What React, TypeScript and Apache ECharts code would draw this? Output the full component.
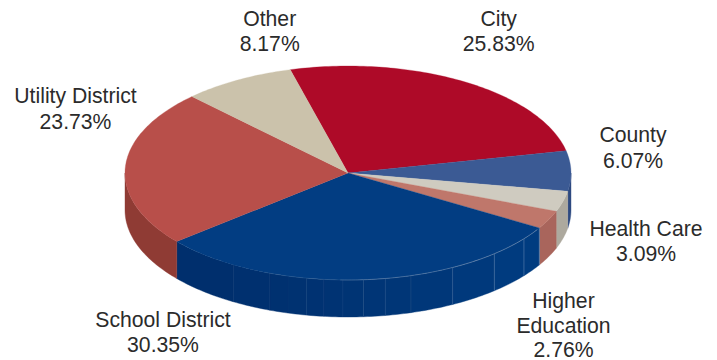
import React, { useEffect, useRef } from "react";
import * as echarts from "echarts";

const categories = ["City", "County", "Health Care", "Higher Education", "School District", "Utility District", "Other"];
const shares = [25.83, 6.07, 3.09, 2.76, 30.35, 23.73, 8.17];
const topColors = ["#AE0A28", "#3B5A94", "#CFCBC0", "#BF776B", "#023D82", "#B84F4A", "#CBC2AB"];
const sideColors = ["#8A0820", "#2D4A80", "#ADA99E", "#A9655C", "#002C69", "#8F3B34", "#A59D89"];

// Label lines by category index.
const labelLines = [
  ["City"],
  ["County"],
  ["Health Care"],
  ["Higher", "Education"],
  ["School District"],
  ["Utility District"],
  ["Other"],
];
// Centre x, first line y and line spacing of each label block.
const labelBlocks = [
  [498.7, 18, 25],
  [633, 134.7, 25.4],
  [646, 228, 25],
  [563.5, 300.7, 24.3],
  [163, 319, 25],
  [75.5, 95.7, 25.4],
  [269.7, 18, 25],
];

// Facet seams on the rim of the School District slice, in degrees of ellipse parameter.
const rimSeams = [-121, -110.5, -105.6, -100.8, -96.2, -91.3, -86, -80.4, -73.6, -62, -49, -37.9];

const CX = 348;
const CY = 173;
const RX = 223;
const RY = 107;
const DEPTH = 37;
const START_DEG = 105;
const SCHOOL_INDEX = 4;

const total = shares.reduce((a, b) => a + b, 0);

function sliceRange(index: number): [number, number] {
  const before = shares.slice(0, index).reduce((a, b) => a + b, 0);
  const from = START_DEG - (before / total) * 360;
  const to = from - (shares[index] / total) * 360;
  return [from, to];
}

function rimPoint(deg: number, drop = 0): number[] {
  const t = (deg * Math.PI) / 180;
  return [CX + RX * Math.cos(t), CY - RY * Math.sin(t) + drop];
}

function arcPoints(from: number, to: number, drop = 0): number[][] {
  const pts: number[][] = [];
  const steps = Math.max(2, Math.ceil(Math.abs(from - to)));
  for (let i = 0; i <= steps; i++) pts.push(rimPoint(from + ((to - from) * i) / steps, drop));
  return pts;
}

function mixHex(a: string, b: string, k: number): string {
  const ch = (h: string, i: number) => parseInt(h.slice(1 + i * 2, 3 + i * 2), 16);
  const parts = [0, 1, 2].map((i) => Math.round(ch(a, i) + (ch(b, i) - ch(a, i)) * k));
  return `rgb(${parts.join(",")})`;
}

// One wall quad between two parameter angles on the front half of the ellipse.
function wall(from: number, to: number, fill: string) {
  return {
    type: "polygon",
    shape: { points: [...arcPoints(from, to), ...arcPoints(to, from, DEPTH)] },
    style: { fill, stroke: fill, lineWidth: 0.4 },
  };
}

function renderSides(params: any) {
  const i = params.dataIndex;
  const [a, b] = sliceRange(i);
  const children: any[] = [];
  // The visible wall lies between 0 and -180 degrees.
  const from = Math.min(a, 0);
  const to = Math.max(b, -180);
  if (from <= to) return { type: "group", children };

  if (i === SCHOOL_INDEX) {
    const stops = [from, ...[...rimSeams].reverse(), to];
    for (let s = 0; s < stops.length - 1; s++) {
      const k = (stops[s] - to) / (from - to);
      children.push(wall(stops[s], stops[s + 1], mixHex("#002C69", "#003C80", k)));
    }
    rimSeams.forEach((deg) => {
      const [x1, y1] = rimPoint(deg);
      const [x2, y2] = rimPoint(deg, DEPTH);
      const k = (deg - to) / (from - to);
      children.push({
        type: "line",
        shape: { x1, y1, x2, y2 },
        style: { stroke: "#DCE6F2", lineWidth: 0.7, opacity: 0.01 + 0.42 * k * k * k },
      });
    });
    const [x1, y1] = rimPoint(from);
    const [x2, y2] = rimPoint(from, DEPTH);
    children.push({ type: "line", shape: { x1, y1, x2, y2 }, style: { stroke: "#6C86A8", lineWidth: 0.8 } });
  } else {
    children.push(wall(from, to, sideColors[i]));
  }
  return { type: "group", children };
}

function renderTops(params: any, api: any) {
  const i = params.dataIndex;
  const [a, b] = sliceRange(i);
  const value = api.value(0);
  const children: any[] = [
    {
      type: "polygon",
      shape: { points: [[CX, CY], ...arcPoints(a, b)] },
      style: { fill: topColors[i], stroke: topColors[i], lineWidth: 0.3 },
    },
  ];
  if (i === SCHOOL_INDEX) {
    // Thin highlight where the top face meets the wall.
    children.push({
      type: "polyline",
      shape: { points: arcPoints(-32, -62) },
      style: { stroke: "#7C95B6", lineWidth: 0.8, fill: "none", opacity: 0.75 },
    });
    children.push({
      type: "polyline",
      shape: { points: arcPoints(-62, -92) },
      style: { stroke: "#7C95B6", lineWidth: 0.8, fill: "none", opacity: 0.6 },
    });
    children.push({
      type: "polyline",
      shape: { points: arcPoints(-92, -112) },
      style: { stroke: "#7C95B6", lineWidth: 0.7, fill: "none", opacity: 0.25 },
    });
  }
  const lines = [...labelLines[i], `${value.toFixed(2)}%`];
  const [lx, ly, gap] = labelBlocks[i];
  lines.forEach((text, n) => {
    children.push({
      type: "text",
      x: lx,
      y: ly + n * gap,
      style: {
        text,
        fill: "#2B2B2B",
        font: '21.2px "Liberation Sans", Arial, sans-serif',
        align: "center",
        verticalAlign: "middle",
      },
    });
  });
  return { type: "group", children };
}

export default function App() {
  const ref = useRef<HTMLDivElement>(null);

  useEffect(() => {
    const chart = echarts.init(ref.current!, undefined, { renderer: "svg" });
    const data = shares.map((v, i) => ({ name: categories[i], value: [v] }));
    chart.setOption({
      animation: false,
      backgroundColor: "#ffffff",
      series: [
        { type: "custom", coordinateSystem: "none", renderItem: renderSides, data, silent: true, z: 1 },
        { type: "custom", coordinateSystem: "none", renderItem: renderTops, data, silent: true, z: 2 },
      ],
    });
    return () => chart.dispose();
  }, []);

  return <div ref={ref} style={{ position: "fixed", left: 0, top: 0, width: 717, height: 360 }} />;
}
